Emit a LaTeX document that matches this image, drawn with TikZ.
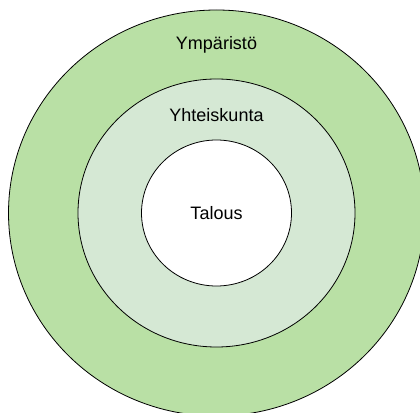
\documentclass[tikz,border=0pt]{standalone}
\usepackage{fontspec}
\setmainfont{Liberation Sans}
\usetikzlibrary{shapes.geometric}
\definecolor{outerg}{HTML}{B9E0A5}
\definecolor{midg}{HTML}{D5E8D4}
\tikzset{
  ring/.style={ellipse, draw=black, line width=0.8pt, inner sep=0pt, outer sep=0pt},
  lbl/.style={font=\fontsize{18}{20}\selectfont, text=black, inner sep=0pt}
}
\begin{document}
\begin{tikzpicture}[x=1pt,y=1pt]
\fill[white] (0,0) rectangle (420,412);
\clip (0,0) rectangle (420,412);
\node[ring, fill=outerg, minimum width=416, minimum height=406] (env) at (216.5,199) {};
\node[ring, fill=midg, minimum width=277, minimum height=268] (soc) at (216.5,199) {};
\node[ring, fill=white, minimum width=150, minimum height=146] (eco) at (216.5,199) {};
\node[lbl] (tenv) at (216.5,367) {Ympäristö};
\node[lbl] (tsoc) at (216.5,297) {Yhteiskunta};
\node[lbl] (teco) at (216.5,199) {Talous};
\end{tikzpicture}
\end{document}
